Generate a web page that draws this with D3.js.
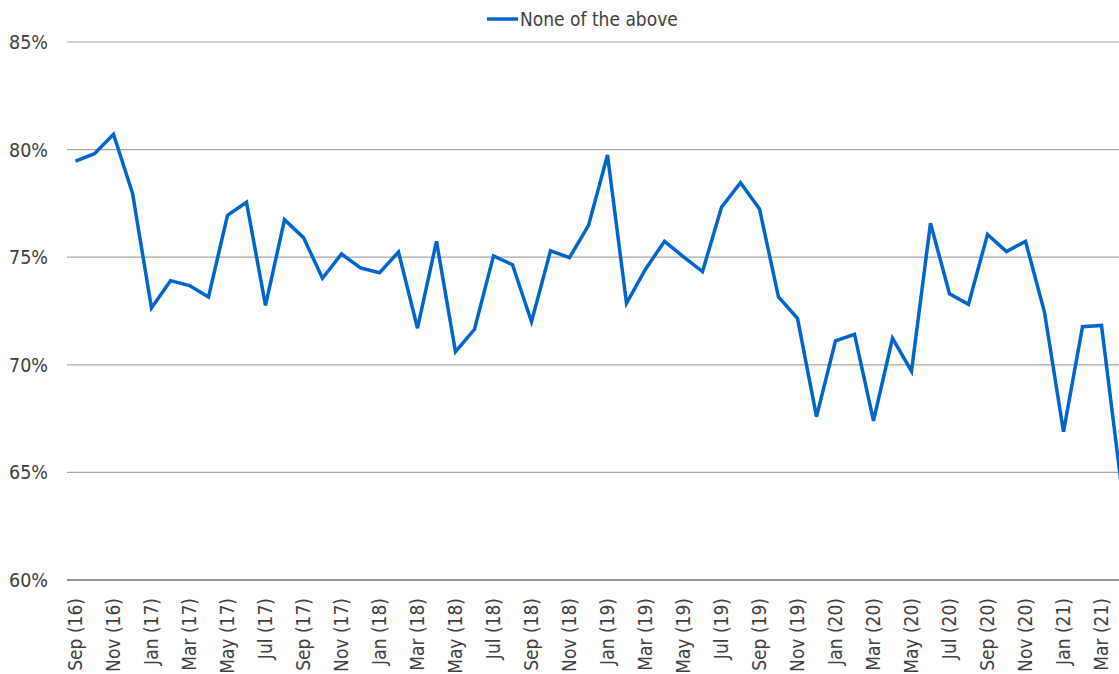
<!DOCTYPE html>
<html>
<head>
<meta charset="utf-8">
<script src="https://cdn.jsdelivr.net/npm/d3@7"></script>
<style>
  body { margin: 0; background: #fff; }
  svg { display: block; font-family: 'DejaVu Sans Condensed', 'DejaVu Sans', sans-serif; }
</style>
</head>
<body>
<svg id="chart" width="1119" height="674"></svg>
<script>
const months = [
    'Sep (16)', 'Oct (16)', 'Nov (16)', 'Dec (16)',
    'Jan (17)', 'Feb (17)', 'Mar (17)', 'Apr (17)', 'May (17)', 'Jun (17)',
    'Jul (17)', 'Aug (17)', 'Sep (17)', 'Oct (17)', 'Nov (17)', 'Dec (17)',
    'Jan (18)', 'Feb (18)', 'Mar (18)', 'Apr (18)', 'May (18)', 'Jun (18)',
    'Jul (18)', 'Aug (18)', 'Sep (18)', 'Oct (18)', 'Nov (18)', 'Dec (18)',
    'Jan (19)', 'Feb (19)', 'Mar (19)', 'Apr (19)', 'May (19)', 'Jun (19)',
    'Jul (19)', 'Aug (19)', 'Sep (19)', 'Oct (19)', 'Nov (19)', 'Dec (19)',
    'Jan (20)', 'Feb (20)', 'Mar (20)', 'Apr (20)', 'May (20)', 'Jun (20)',
    'Jul (20)', 'Aug (20)', 'Sep (20)', 'Oct (20)', 'Nov (20)', 'Dec (20)',
    'Jan (21)', 'Feb (21)', 'Mar (21)', 'Apr (21)'
];

// share answering "None of the above", in %
const noneOfTheAbove = [
    79.46, 79.81, 80.71, 77.97,
    72.64, 73.91, 73.68, 73.15, 76.95, 77.55,
    72.76, 76.74, 75.91, 74.02, 75.15, 74.50,
    74.28, 75.24, 71.70, 75.74, 70.61, 71.65,
    75.06, 74.65, 72.00, 75.30, 74.98, 76.48,
    79.75, 72.86, 74.44, 75.74, 75.02, 74.33,
    77.32, 78.46, 77.24, 73.15, 72.16, 67.59,
    71.11, 71.42, 67.40, 71.23, 69.71, 76.58,
    73.30, 72.81, 76.06, 75.26, 75.74, 72.44,
    66.89, 71.77, 71.83, 64.70
];

const yTicks = [60, 65, 70, 75, 80, 85];
const seriesName = 'None of the above';

const svg = d3.select('#chart');
const width = +svg.attr('width');

const left = 67;
const xScale = d3.scaleBand()
    .domain(months)
    .range([66, 66 + months.length * 19]);

const yScale = d3.scaleLinear()
    .domain([60, 85])
    .range([580, 42]);

const xc = d => xScale(d) + xScale.bandwidth() / 2;

// gridlines
svg.append('g')
    .selectAll('line')
    .data(yTicks)
    .enter().append('line')
    .attr('x1', left)
    .attr('x2', width)
    .attr('y1', d => yScale(d))
    .attr('y2', d => yScale(d))
    .attr('stroke', d => d === 60 ? '#707070' : '#a6a6a6')
    .attr('stroke-width', d => d === 60 ? 1.5 : 1.2);

// y labels
svg.append('g')
    .selectAll('text')
    .data(yTicks)
    .enter().append('text')
    .attr('x', 48)
    .attr('y', d => yScale(d))
    .attr('dy', '0.36em')
    .attr('text-anchor', 'end')
    .attr('fill', '#404040')
    .style('font-size', '19.5px')
    .text(d => d + '%');

// x labels, every second month
svg.append('g')
    .selectAll('text')
    .data(months.filter((m, i) => i % 2 === 0))
    .enter().append('text')
    .attr('transform', d => `translate(${xc(d)}, 598) rotate(-90)`)
    .attr('dy', '0.35em')
    .attr('text-anchor', 'end')
    .attr('fill', '#404040')
    .style('font-size', '19px')
    .text(d => d);

// the line
const line = d3.line()
    .x((d, i) => xc(months[i]))
    .y(d => yScale(d));

svg.append('path')
    .datum(noneOfTheAbove)
    .attr('d', line)
    .attr('fill', 'none')
    .attr('stroke', '#0066cc')
    .attr('stroke-width', 3.5);

// legend
const legend = svg.append('g');
legend.append('line')
    .attr('x1', 487)
    .attr('x2', 518)
    .attr('y1', 19)
    .attr('y2', 19)
    .attr('stroke', '#0066cc')
    .attr('stroke-width', 3.5);
legend.append('text')
    .attr('x', 520)
    .attr('y', 26)
    .attr('fill', '#404040')
    .style('font-size', '19px')
    .text(seriesName);
</script>
</body>
</html>
